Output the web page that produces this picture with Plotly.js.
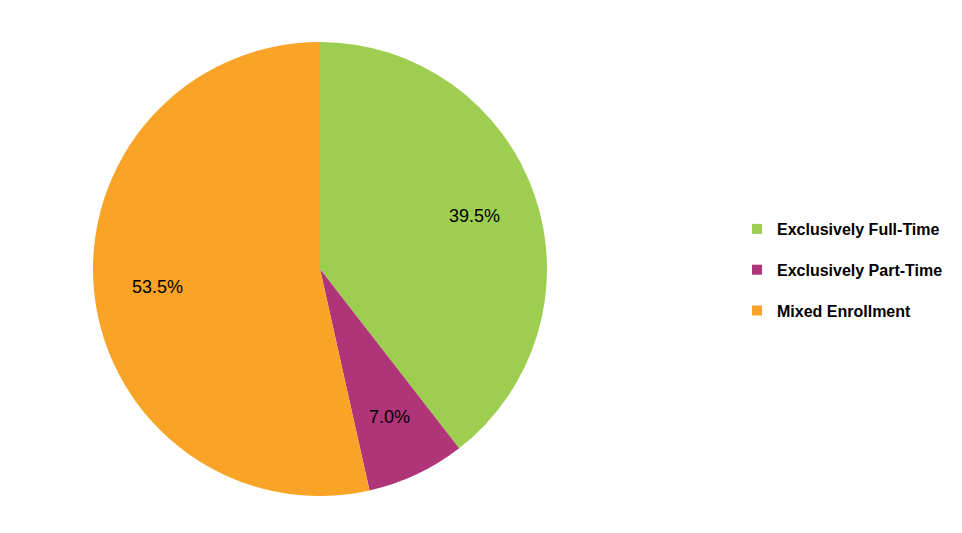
<!DOCTYPE html>
<html>
<head>
<meta charset="utf-8">
<script src="https://cdn.plot.ly/plotly-3.0.1.min.js"></script>
<style>html,body{margin:0;padding:0;background:#fff;}#chart{width:962px;height:533px;}</style>
</head>
<body>
<div id="chart"></div>
<script>
const categories = ["Exclusively Full-Time", "Exclusively Part-Time", "Mixed Enrollment"];
const shares = [39.5, 7.0, 53.5];
const colors = ["#9ECE50", "#B03478", "#F9A427"];

const W = 962, H = 533;
const domX = [93 / W, 547 / W];
const domY = [37 / H, 491 / H];

const pie = {
  type: "pie",
  labels: categories,
  values: shares,
  sort: false,
  direction: "clockwise",
  rotation: 0,
  marker: {colors: colors, line: {width: 0}},
  textinfo: "none",
  hoverinfo: "label+percent",
  showlegend: false,
  domain: {x: domX, y: domY}
};

// legend entries (one per category, same colours as the slices)
const legendTraces = categories.map((c, i) => ({
  type: "scatter",
  mode: "markers",
  x: [null], y: [null],
  name: c,
  legendgroup: c,
  marker: {symbol: "square", size: 10, color: colors[i]},
  hoverinfo: "skip",
  showlegend: true
}));

// percentage labels placed at each slice's mid-angle, derived from the values
const total = shares.reduce((a, b) => a + b, 0);
const cx = (domX[0] + domX[1]) / 2 * W;
const cy = (1 - (domY[0] + domY[1]) / 2) * H;
const R = Math.min((domX[1] - domX[0]) * W, (domY[1] - domY[0]) * H) / 2;
const labelFrac = 0.72;
let cum = 0;
const annotations = shares.map((v) => {
  const mid = (cum + v / 2) / total * 2 * Math.PI;
  cum += v;
  const px = cx + labelFrac * R * Math.sin(mid);
  const py = cy - labelFrac * R * Math.cos(mid);
  return {
    xref: "paper", yref: "paper",
    x: px / W, y: 1 - py / H,
    xanchor: "center", yanchor: "middle",
    text: v.toFixed(1) + "%",
    showarrow: false,
    font: {family: "Liberation Sans, Arial, sans-serif", size: 18, color: "#000"}
  };
});

const layout = {
  width: W, height: H,
  margin: {l: 0, r: 0, t: 0, b: 0},
  paper_bgcolor: "#fff",
  plot_bgcolor: "rgba(0,0,0,0)",
  xaxis: {visible: false, showgrid: false, zeroline: false},
  yaxis: {visible: false, showgrid: false, zeroline: false},
  showlegend: true,
  annotations: annotations,
  legend: {
    x: 737 / W, y: 1 - 270 / H, xanchor: "left", yanchor: "middle",
    font: {family: "Liberation Sans, Arial, sans-serif", size: 16, color: "#000", weight: "bold"},
    itemwidth: 30,
    traceorder: "grouped",
    tracegroupgap: 17,
    bgcolor: "rgba(0,0,0,0)"
  }
};

Plotly.newPlot("chart", [pie].concat(legendTraces), layout, {staticPlot: true, displayModeBar: false});
</script>
</body>
</html>
